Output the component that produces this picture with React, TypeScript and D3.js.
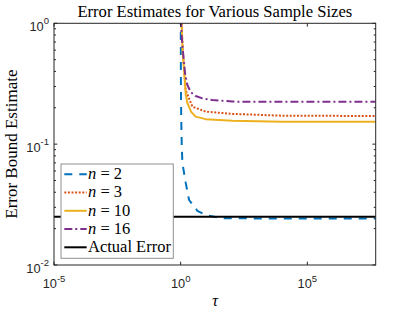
import React from "react";
import * as d3 from "d3";

// values (log-log axes)
const tauN2 = [1.003, 1.02, 1.05, 1.1, 1.17, 1.58, 2.15, 3, 4.56, 9.7, 44, 1e3, 1e5, 5e7];
const errN2 = [2, 0.35, 0.17, 0.1, 0.07, 0.048, 0.0345, 0.0315, 0.0281, 0.0259, 0.0244, 0.0243, 0.0243, 0.0243];

const tauN3 = [1.04, 1.1, 1.2, 1.58, 2.9, 9.7, 110, 1e4, 5e7];
const errN3 = [2, 0.9, 0.62, 0.28, 0.204, 0.186, 0.178, 0.172, 0.171];

const tauN10 = [1.06, 1.095, 1.2, 1.36, 1.58, 1.84, 2.6, 3.9, 9.7, 110, 1e4, 5e7];
const errN10 = [2, 1.0, 0.57, 0.41, 0.26, 0.219, 0.185, 0.169, 0.161, 0.156, 0.153, 0.153];

const tauN16 = [1.01, 1.04, 1.1, 1.2, 1.49, 1.84, 2.48, 3.9, 7.2, 17.8, 110, 1e3, 5e7];
const errN16 = [2, 1.0, 0.78, 0.62, 0.386, 0.309, 0.27, 0.25, 0.239, 0.232, 0.225, 0.224, 0.224];

const tauActual = [1e-5, 5e7];
const errActual = [0.0251, 0.0251];

const xTickExps = [-5, 0, 5];
const yTickExps = [-2, -1, 0];
const legendLabels = ["2", "3", "10", "16", "Actual Error"];

const W = 415;
const H = 312;
const left = 54;
const right = 375.7;
const top = 23.3;
const bottom = 265;

const tickFont = "Liberation Sans, Arial, Helvetica, sans-serif";
const texFont = "Liberation Serif, DejaVu Serif, Times New Roman, serif";

const App = () => {
  const x = d3.scaleLog().domain([1e-5, 5e7]).range([left, right]);
  const y = d3.scaleLog().domain([0.01, 1]).range([bottom, top]);

  const line = d3
    .line<[number, number]>()
    .x((d) => x(d[0]))
    .y((d) => y(d[1]));

  const series = [
    { tau: tauN2, err: errN2, color: "#0072BD", dash: "8,7" },
    { tau: tauN3, err: errN3, color: "#D95319", dash: "2,1.6" },
    { tau: tauN10, err: errN10, color: "#EDB120", dash: null },
    { tau: tauN16, err: errN16, color: "#7E2F8E", dash: "8,3,2,3" },
    { tau: tauActual, err: errActual, color: "#000000", dash: null },
  ];

  // minor y ticks 2..9 per decade
  const yMinor: number[] = [];
  [0.01, 0.1].forEach((b) => {
    for (let k = 2; k <= 9; k++) yMinor.push(b * k);
  });

  const axisColor = "#262626";
  const legRow = 18.25;

  return (
    <div style={{ position: "absolute", left: 0, top: 0 }}>
      <svg width={W} height={H} style={{ display: "block", background: "#fff" }}>
        <defs>
          <clipPath id="plot-clip">
            <rect x={left} y={top} width={right - left} height={bottom - top} />
          </clipPath>
        </defs>

        {/* data lines */}
        <g clipPath="url(#plot-clip)">
          {series.map((s, i) => (
            <path
              key={i}
              d={line(s.tau.map((t, j) => [t, s.err[j]] as [number, number])) || ""}
              fill="none"
              stroke={s.color}
              strokeWidth={2}
              strokeDasharray={s.dash || undefined}
              strokeLinejoin="round"
            />
          ))}
        </g>

        {/* box */}
        <rect
          x={left}
          y={top}
          width={right - left}
          height={bottom - top}
          fill="none"
          stroke={axisColor}
          strokeWidth={1}
        />

        {/* x ticks */}
        {xTickExps.map((e) => {
          const xv = x(Math.pow(10, e));
          return (
            <g key={"xt" + e}>
              <line x1={xv} x2={xv} y1={bottom} y2={bottom - 3.3} stroke={axisColor} />
              <line x1={xv} x2={xv} y1={top} y2={top + 3.3} stroke={axisColor} />
              <text
                x={xv}
                y={bottom + 23.3}
                textAnchor="middle"
                style={{ fontFamily: tickFont, fontSize: "12.8px" }}
                fill={axisColor}
              >
                <tspan>10</tspan>
                <tspan style={{ fontSize: "9.5px" }} dy={-6.6}>
                  {e < 0 ? "-" + Math.abs(e) : String(e)}
                </tspan>
              </text>
            </g>
          );
        })}

        {/* y ticks */}
        {yTickExps.map((e) => {
          const yv = y(Math.pow(10, e));
          return (
            <g key={"yt" + e}>
              <line x1={left} x2={left + 3.3} y1={yv} y2={yv} stroke={axisColor} />
              <line x1={right} x2={right - 3.3} y1={yv} y2={yv} stroke={axisColor} />
              <text
                x={49}
                y={yv + 7.5}
                textAnchor="end"
                style={{ fontFamily: tickFont, fontSize: "12.8px" }}
                fill={axisColor}
              >
                <tspan>10</tspan>
                <tspan style={{ fontSize: "9.5px" }} dy={-6.6}>
                  {e < 0 ? "-" + Math.abs(e) : String(e)}
                </tspan>
              </text>
            </g>
          );
        })}
        {yMinor.map((v, i) => (
          <g key={"ym" + i}>
            <line x1={left} x2={left + 2} y1={y(v)} y2={y(v)} stroke={axisColor} />
            <line x1={right} x2={right - 2} y1={y(v)} y2={y(v)} stroke={axisColor} />
          </g>
        ))}

        {/* title and labels */}
        <text
          x={(left + right) / 2}
          y={17.3}
          textAnchor="middle"
          style={{ fontFamily: texFont, fontSize: "16.6px" }}
          fill="#000"
        >
          Error Estimates for Various Sample Sizes
        </text>
        <text
          transform={`translate(16.5,${(top + bottom) / 2}) rotate(-90)`}
          textAnchor="middle"
          style={{ fontFamily: texFont, fontSize: "17px" }}
          fill="#000"
        >
          Error Bound Estimate
        </text>
        <text
          x={215}
          y={306}
          textAnchor="middle"
          style={{ fontFamily: texFont, fontSize: "16px", fontStyle: "italic" }}
          fill="#000"
        >
          τ
        </text>

        {/* legend */}
        <rect
          x={61}
          y={164}
          width={112.3}
          height={94.3}
          fill="#fff"
          stroke="#8f8f8f"
          strokeWidth={1}
        />
        {series.map((s, i) => {
          const ly = 174.3 + i * legRow;
          return (
            <g key={"lg" + i}>
              <line
                x1={64.3}
                x2={86.7}
                y1={ly}
                y2={ly}
                stroke={s.color}
                strokeWidth={2}
                strokeDasharray={s.dash || undefined}
              />
              <text
                x={88}
                y={ly + 4.8}
                style={{ fontFamily: texFont, fontSize: "16.5px" }}
                fill="#000"
              >
                {i < 4 ? (
                  <>
                    <tspan style={{ fontStyle: "italic" }}>n</tspan>
                    <tspan> = {legendLabels[i]}</tspan>
                  </>
                ) : (
                  legendLabels[i]
                )}
              </text>
            </g>
          );
        })}
      </svg>
    </div>
  );
};

export default App;
